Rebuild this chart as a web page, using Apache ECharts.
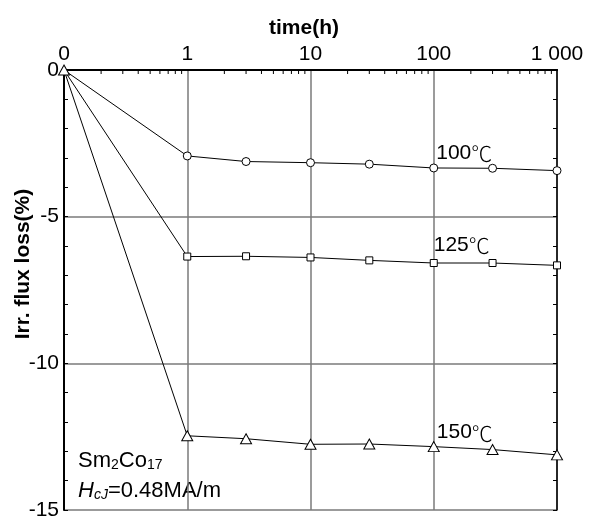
<!DOCTYPE html>
<html>
<head>
<meta charset="utf-8">
<script src="https://cdn.jsdelivr.net/npm/echarts@6/dist/echarts.min.js"></script>
<style>
  html, body { margin: 0; padding: 0; background: #fff; }
  #chart { width: 592px; height: 530px; }
</style>
</head>
<body>
<div id="chart"></div>
<script>
// Irreversible flux loss of Sm2Co17 magnets held at three temperatures.
const FONT = 'Arial, "Liberation Sans", "Noto Sans CJK SC", sans-serif';
const CJK_FONT = '"Noto Sans CJK SC", "Noto Sans CJK JP", sans-serif';

// Exposure time in hours (0 = start of the test)
const times = [0, 1, 3, 10, 30, 100, 300, 1000];
// Irreversible flux loss in percent
const loss100 = [0, -2.93, -3.12, -3.16, -3.21, -3.34, -3.35, -3.43];
const loss125 = [0, -6.36, -6.35, -6.39, -6.49, -6.58, -6.58, -6.66];
const loss150 = [0, -12.47, -12.57, -12.76, -12.75, -12.84, -12.94, -13.12];

const seriesNames = ['100℃', '125℃', '150℃'];
// Top axis labels, one per decade starting at the origin
const xTickLabels = ['0', '1', '10', '100', '1 000'];
const yTickValues = [0, -5, -10, -15];

// The log time axis starts one decade below 1 h; that first tick stands for t = 0.
const AXIS_ORIGIN = 0.1;
// Temperature labels sit next to the 100 h point of each curve.
const LABEL_TIME = 100;

const toX = t => (t === 0 ? AXIS_ORIGIN : t);

// Minor log ticks (2..9 within every decade) along the top axis
const minorTicks = [];
for (let d = AXIS_ORIGIN; d < 1000; d *= 10) {
  for (let k = 2; k <= 9; k++) minorTicks.push(+(d * k).toPrecision(3));
}

function buildData(values, labelOffset, firstHidden) {
  return times.map((t, i) => {
    const item = { value: [toX(t), values[i]] };
    if (i === 0 && firstHidden) item.symbol = 'none';
    if (t === LABEL_TIME) {
      item.label = {
        show: true,
        position: 'right',
        distance: 0,
        offset: labelOffset,
        // digits in the Latin face, the degree sign from the CJK face
        formatter: p => '{d|' + p.seriesName.replace('℃', '') + '}{c|℃}',
        rich: {
          d: { fontFamily: FONT, fontSize: 21, color: '#000' },
          c: { fontFamily: CJK_FONT, fontSize: 21, fontWeight: 300, color: '#000' }
        }
      };
    }
    return item;
  });
}

function lineSeries(name, values, symbol, size, labelOffset, firstHidden) {
  return {
    name: name,
    type: 'line',
    xAxisIndex: 0,
    yAxisIndex: 0,
    data: buildData(values, labelOffset, firstHidden),
    symbol: symbol,
    symbolSize: size,
    showAllSymbol: true,
    clip: false,
    lineStyle: { color: '#000', width: 1 },
    itemStyle: { color: '#fff', borderColor: '#000', borderWidth: 1 },
    emphasis: { disabled: true },
    z: 5
  };
}

const gridStyle = { color: '#7a7a7a', width: 1.5, type: 'solid' };

const chart = echarts.init(document.getElementById('chart'), null, { renderer: 'canvas' });

chart.setOption({
  animation: false,
  backgroundColor: '#fff',
  grid: { left: 64, top: 70, width: 493, height: 440, containLabel: false },
  xAxis: [
    {
      type: 'log',
      logBase: 10,
      position: 'top',
      min: AXIS_ORIGIN,
      max: 1000,
      axisLine: { show: true, lineStyle: { color: '#000', width: 2 } },
      axisTick: { show: false },
      axisLabel: {
        show: true,
        margin: 5,
        fontFamily: FONT,
        fontSize: 21,
        color: '#000',
        formatter: v => xTickLabels[Math.round(Math.log10(v)) + 1]
      },
      splitLine: { show: true, lineStyle: gridStyle }
    },
    {
      type: 'log',
      logBase: 10,
      position: 'bottom',
      min: AXIS_ORIGIN,
      max: 1000,
      axisLine: { show: true, lineStyle: { color: '#000', width: 2 } },
      axisTick: { show: false },
      axisLabel: { show: false },
      splitLine: { show: false }
    }
  ],
  yAxis: [
    {
      type: 'value',
      position: 'left',
      min: -15,
      max: 0,
      interval: 5,
      axisLine: { show: true, lineStyle: { color: '#000', width: 2 } },
      axisTick: { show: true, inside: true, length: 4, lineStyle: { color: '#000' } },
      minorTick: { show: true, splitNumber: 5, length: 4, lineStyle: { color: '#000', width: 1 } },
      axisLabel: {
        show: true,
        margin: 5,
        fontFamily: FONT,
        fontSize: 21,
        color: '#000',
        formatter: v => (yTickValues.indexOf(v) >= 0 ? String(v) : '')
      },
      splitLine: { show: true, lineStyle: gridStyle }
    },
    {
      type: 'value',
      position: 'right',
      min: -15,
      max: 0,
      interval: 5,
      axisLine: { show: true, lineStyle: { color: '#000', width: 1.5 } },
      axisTick: { show: true, inside: true, length: 4, lineStyle: { color: '#000' } },
      minorTick: { show: true, splitNumber: 5, length: 4, lineStyle: { color: '#000', width: 1 } },
      axisLabel: { show: false },
      splitLine: { show: false }
    }
  ],
  series: [
    {
      type: 'custom',
      xAxisIndex: 0,
      yAxisIndex: 0,
      silent: true,
      clip: false,
      data: minorTicks.map(v => [v]),
      renderItem: (params, api) => {
        const p = api.coord([api.value(0), 0]);
        return {
          type: 'line',
          shape: { x1: p[0], y1: p[1], x2: p[0], y2: p[1] + 4 },
          style: { stroke: '#000', lineWidth: 1 }
        };
      },
      z: 4
    },
    lineSeries(seriesNames[0], loss100, 'circle', 8, [-2, -15], true),
    lineSeries(seriesNames[1], loss125, 'rect', 7, [-4, -18], true),
    lineSeries(seriesNames[2], loss150, 'triangle', [11, 10], [-3, -14], false)
  ],
  graphic: [
    {
      type: 'text',
      x: 304,
      y: 28,
      style: {
        text: 'time(h)',
        font: 'bold 21px ' + FONT,
        fill: '#000',
        align: 'center', verticalAlign: 'middle',
        textAlign: 'center', textVerticalAlign: 'middle'
      }
    },
    {
      type: 'text',
      x: 23,
      y: 264,
      rotation: Math.PI / 2,
      style: {
        text: 'Irr. flux loss(%)',
        font: 'bold 21px ' + FONT,
        fill: '#000',
        align: 'center', verticalAlign: 'middle',
        textAlign: 'center', textVerticalAlign: 'middle'
      }
    },
    {
      type: 'text',
      x: 78,
      y: 448,
      style: {
        text: '{n|Sm}{s|2}{n|Co}{s|17}',
        fill: '#000',
        rich: {
          n: { fontFamily: FONT, fontSize: 22, color: '#000', verticalAlign: 'bottom', lineHeight: 24 },
          s: { fontFamily: FONT, fontSize: 14, color: '#000', verticalAlign: 'bottom', lineHeight: 24 }
        }
      }
    },
    {
      type: 'text',
      x: 78,
      y: 478,
      style: {
        text: '{i|H}{si|cJ}{n|=0.48MA/m}',
        fill: '#000',
        rich: {
          i: { fontFamily: FONT, fontSize: 22, fontStyle: 'italic', color: '#000', verticalAlign: 'bottom', lineHeight: 24 },
          si: { fontFamily: FONT, fontSize: 14, fontStyle: 'italic', color: '#000', verticalAlign: 'bottom', lineHeight: 24 },
          n: { fontFamily: FONT, fontSize: 22, color: '#000', verticalAlign: 'bottom', lineHeight: 24 }
        }
      }
    }
  ]
});
</script>
</body>
</html>
